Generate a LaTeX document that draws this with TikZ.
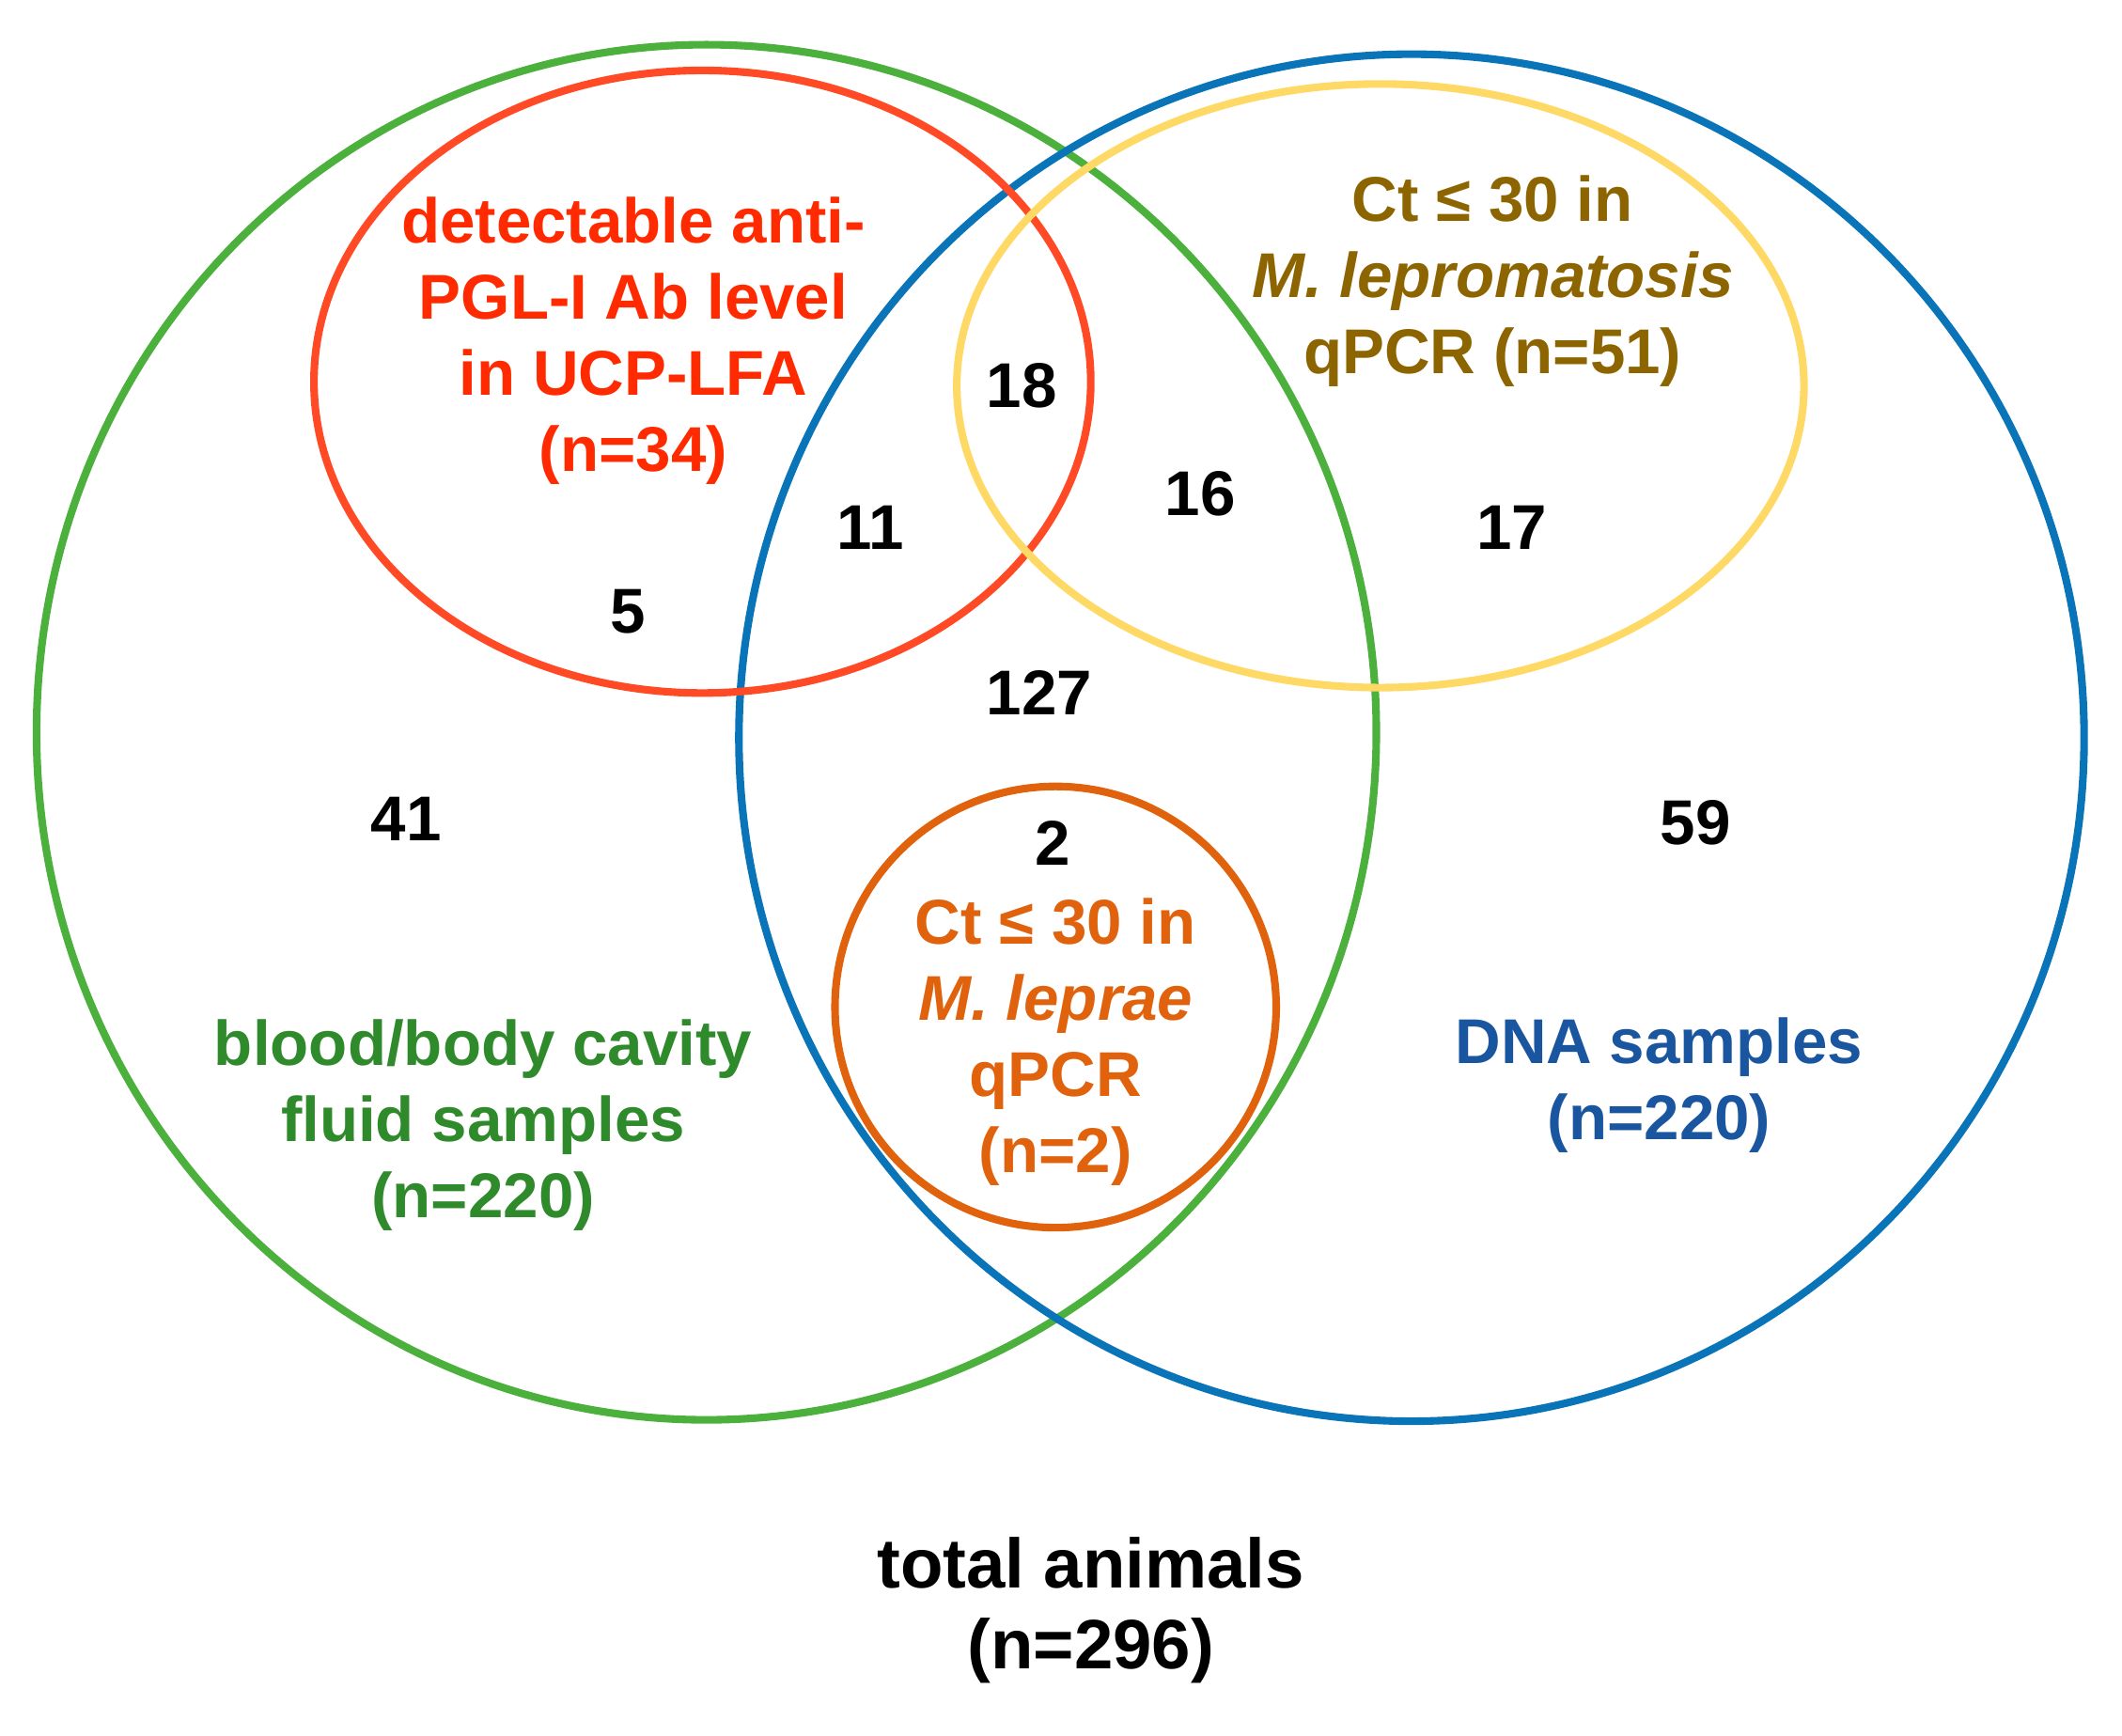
\documentclass[tikz,border=0pt]{standalone}
\usepackage{fontspec}
\setmainfont{Liberation Sans}
\definecolor{grnline}{HTML}{4BB03C}
\definecolor{grntext}{HTML}{2F8A2C}
\definecolor{bluline}{HTML}{0A74B9}
\definecolor{blutext}{HTML}{1A56A0}
\definecolor{redline}{HTML}{FF4A25}
\definecolor{redtext}{HTML}{FF2A00}
\definecolor{yelline}{HTML}{FFD966}
\definecolor{olvtext}{HTML}{8C6400}
\definecolor{orgline}{HTML}{E0620C}
\begin{document}
\begin{tikzpicture}[x=0.1mm,y=-0.1mm,
  setline/.style={line width=1.6pt},
  lbl/.style={align=center,inner sep=0pt,font=\fontsize{13.3}{16}\selectfont\bfseries}]
\useasboundingbox (0,0) rectangle (1568,1282);
% sets
\draw[setline,grnline] (522,541) ellipse [x radius=495, y radius=508];
\draw[setline,bluline] (1043,545) ellipse [x radius=497, y radius=505];
\draw[setline,redline] (519,282) ellipse [x radius=287, y radius=230];
\draw[setline,yelline] (1020,285) ellipse [x radius=313, y radius=223];
\draw[setline,orgline] (780,744) circle [radius=163];
% set labels
\node[lbl,redtext] (pgl) at (468,252) {detectable anti-\\PGL-I Ab level\\in UCP-LFA\\(n=34)};
\node[lbl,olvtext] (lpm) at (1103,208) {Ct ≤ 30 in\\\itshape M. lepromatosis\\qPCR (n=51)};
\node[lbl,orgline] (lep) at (780,770) {Ct ≤ 30 in\\\itshape M. leprae\\qPCR\\(n=2)};
\node[lbl,grntext] (bld) at (357,831) {blood/body cavity\\fluid samples\\(n=220)};
\node[lbl,blutext] (dna) at (1226,802) {DNA samples\\(n=220)};
\node[lbl,font=\fontsize{14.7}{17}\selectfont\bfseries] (tot) at (806,1190) {total animals\\(n=296)};
% counts
\node[lbl] (n18) at (755,285) {18};
\node[lbl] (n11) at (643,390) {11};
\node[lbl] (n5) at (464,452) {5};
\node[lbl] (n16) at (887,365) {16};
\node[lbl] (n17) at (1117,390) {17};
\node[lbl] (n127) at (768,512) {127};
\node[lbl] (n2) at (778,623) {2};
\node[lbl] (n41) at (300,605) {41};
\node[lbl] (n59) at (1253,608) {59};
\end{tikzpicture}
\end{document}
